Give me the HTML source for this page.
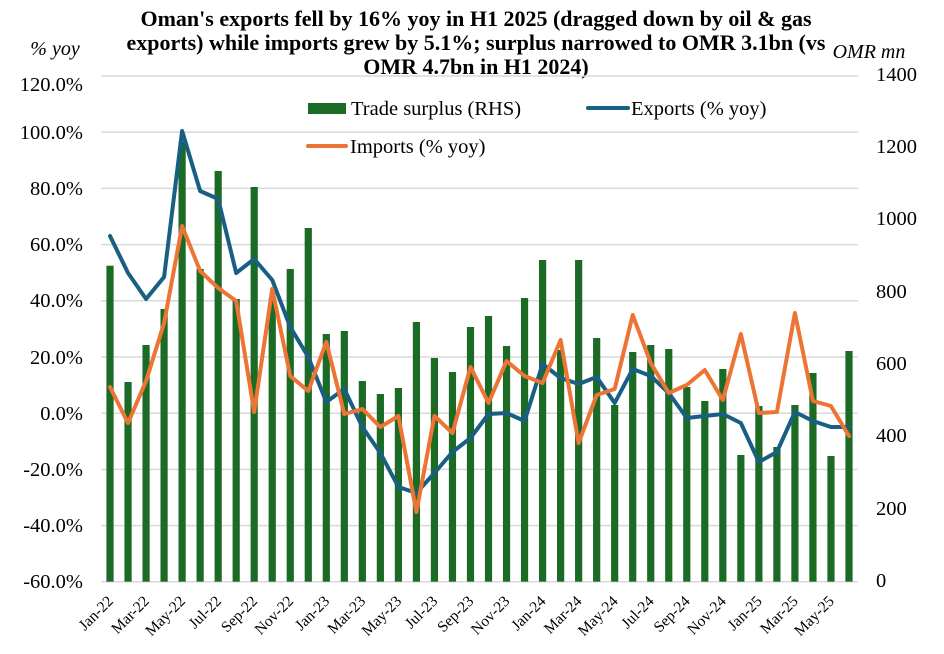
<!DOCTYPE html>
<html><head><meta charset="utf-8"><style>
html,body{margin:0;padding:0;background:#fff;}
svg{display:block;}
text{font-family:"Liberation Serif","Times New Roman",serif;fill:#000;}
</style></head><body>
<svg width="944" height="654" viewBox="0 0 944 654" xmlns="http://www.w3.org/2000/svg">
<rect width="944" height="654" fill="#fff"/>
<g font-weight="bold" font-size="22" text-anchor="middle">
<text x="476" y="26">Oman's exports fell by 16% yoy in H1 2025 (dragged down by oil &amp; gas</text>
<text x="476" y="50">exports) while imports grew by 5.1%; surplus narrowed to OMR 3.1bn (vs</text>
<text x="476" y="74">OMR 4.7bn in H1 2024)</text>
</g>
<text x="55" y="55" font-size="20" font-style="italic" text-anchor="middle">% yoy</text>
<text x="869" y="58" font-size="20" font-style="italic" text-anchor="middle">OMR mn</text>
<g stroke="#d9d9d9" stroke-width="1.5">
<line x1="101" x2="858" y1="76" y2="76"/>
<line x1="101" x2="858" y1="132.2" y2="132.2"/>
<line x1="101" x2="858" y1="188.4" y2="188.4"/>
<line x1="101" x2="858" y1="244.6" y2="244.6"/>
<line x1="101" x2="858" y1="300.8" y2="300.8"/>
<line x1="101" x2="858" y1="357" y2="357"/>
<line x1="101" x2="858" y1="413.2" y2="413.2"/>
<line x1="101" x2="858" y1="469.4" y2="469.4"/>
<line x1="101" x2="858" y1="525.6" y2="525.6"/>
<line x1="101" x2="858" y1="581.7" y2="581.7"/>
</g>
<g font-size="20.5" text-anchor="end">
<text x="83" y="91">120.0%</text>
<text x="83" y="139">100.0%</text>
<text x="83" y="195">80.0%</text>
<text x="83" y="251">60.0%</text>
<text x="83" y="307">40.0%</text>
<text x="83" y="364">20.0%</text>
<text x="83" y="420">0.0%</text>
<text x="83" y="476">-20.0%</text>
<text x="83" y="532">-40.0%</text>
<text x="83" y="588">-60.0%</text>
</g>
<g font-size="20.5" text-anchor="start">
<text x="876" y="81">1400</text>
<text x="876" y="153">1200</text>
<text x="876" y="225">1000</text>
<text x="876" y="298">800</text>
<text x="876" y="370">600</text>
<text x="876" y="442">400</text>
<text x="876" y="515">200</text>
<text x="876" y="587">0</text>
</g>
<g id="bars" fill="#1b6b27"></g>
<polyline id="exp" fill="none" stroke="#195e83" stroke-width="4" stroke-linejoin="round" stroke-linecap="round" points=""/>
<polyline id="imp" fill="none" stroke="#ec7434" stroke-width="4" stroke-linejoin="round" stroke-linecap="round" points=""/>
<g id="xl" font-size="15.5" text-anchor="end"></g>
<rect x="308" y="103" width="38" height="11" fill="#1b6b27"/>
<text x="351" y="115" font-size="20.5">Trade surplus (RHS)</text>
<line x1="588" y1="108" x2="628" y2="108" stroke="#195e83" stroke-width="4" stroke-linecap="round"/>
<text x="631" y="115" font-size="20.5">Exports (% yoy)</text>
<line x1="308" y1="146" x2="346" y2="146" stroke="#ec7434" stroke-width="4" stroke-linecap="round"/>
<text x="350" y="153" font-size="20.5">Imports (% yoy)</text>
</svg>
<script>
(function(){
var NS="http://www.w3.org/2000/svg";
var bt=[265.7,382,345,309,142,269,171,299,187,298,269,228,334,331,381,394,388,322,358,372,327,316,346,298,260,350,260,338,405,352,345,349,387,401,369,455,406,447,405,373,456,351];
var ex=[236,273,299,277,131,191,199,273,259,280,327,357,402,389,427,453,487,493,473,452,438,414,413,421,364,378,384,377,403,369,376,393,418,416,414,423,462,452,412,421,427,427];
var im=[387,423,381,323,226,271,288,301,412,289,376,391,342,414,409,427,416,512,416,433,367,403,361,376,383,340,443,395,389,315,363,393,385,370,400,334,413,412,313,401,406,436];
var mon=["Jan","Mar","May","Jul","Sep","Nov"];
var g=document.getElementById("bars"),xl=document.getElementById("xl");
var pe=[],pi=[];
for(var i=0;i<42;i++){
 var x=101+(i+0.5)*18.024;
 var r=document.createElementNS(NS,"rect");
 r.setAttribute("x",(x-3.6).toFixed(2));r.setAttribute("width","7.2");
 r.setAttribute("y",bt[i]);r.setAttribute("height",(581.7-bt[i]).toFixed(2));
 g.appendChild(r);
 pe.push(x.toFixed(2)+","+ex[i]);pi.push(x.toFixed(2)+","+im[i]);
 if(i%2==0){
  var yr=22+Math.floor(i/12);var m=mon[(i%12)/2];
  var t=document.createElementNS(NS,"text");
  var ax=x+4,ay=602;
  t.setAttribute("x",ax.toFixed(2));t.setAttribute("y",ay);
  t.setAttribute("transform","rotate(-45 "+ax.toFixed(2)+" "+ay+")");
  t.textContent=m+"-"+yr;xl.appendChild(t);
 }
}
document.getElementById("exp").setAttribute("points",pe.join(" "));
document.getElementById("imp").setAttribute("points",pi.join(" "));
})();
</script>
</body></html>
